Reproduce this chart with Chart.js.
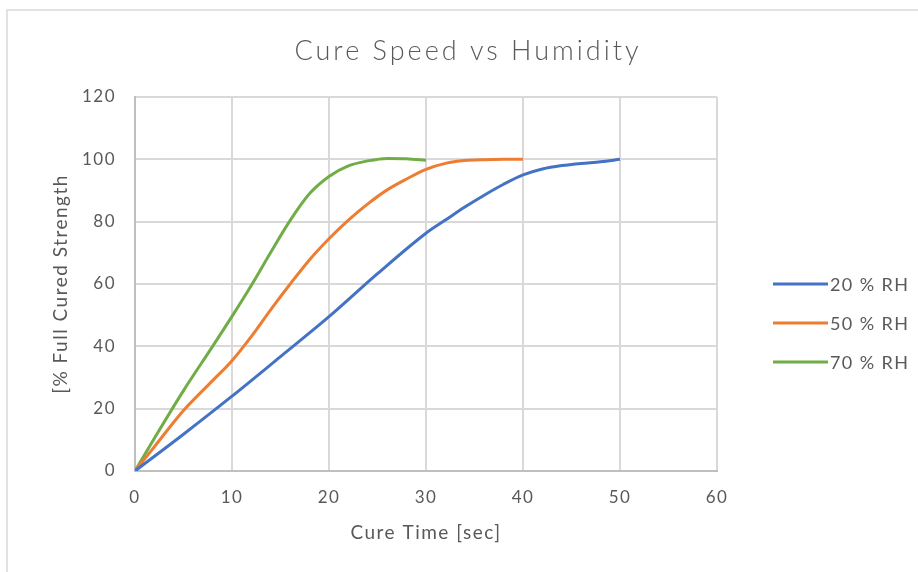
<!DOCTYPE html>
<html>
<head>
<meta charset="utf-8">
<title>Cure Speed vs Humidity</title>
<script src="https://cdn.jsdelivr.net/npm/chart.js@4/dist/chart.umd.min.js"></script>
<style>
    html, body { margin: 0; padding: 0; background: #ffffff; }
    #wrap { width: 918px; height: 572px; position: relative; }
</style>
</head>
<body>
<div id="wrap"><canvas id="cureChart" width="918" height="572"></canvas></div>
<script>
// Chart data
const seriesNames = ['20 % RH', '50 % RH', '70 % RH'];
const seriesColors = ['#4472C4', '#ED7D31', '#70AD47'];

const time20 = [0, 5, 10, 15, 20, 25, 30, 32, 34, 36, 38, 40, 42, 44, 46, 48, 50];
const rh20 = [0, 11.8, 24, 36.7, 49.5, 63.3, 76.3, 80.5, 84.7, 88.5, 92, 95, 96.9, 98, 98.7, 99.2, 100];

const time50 = [0, 2, 5, 8, 10, 12, 14, 16, 18, 20, 22, 24, 26, 28, 30, 32, 34, 36, 38, 40];
const rh50 = [0, 7.8, 19.4, 29, 35.4, 43.2, 51.8, 60, 67.8, 74.5, 80.5, 85.7, 90.2, 93.7, 96.8, 98.7, 99.6, 99.9, 100, 100];

const time70 = [0, 2, 5, 8, 10, 12, 14, 16, 18, 20, 22, 24, 26, 28, 30];
const rh70 = [0, 10.5, 25.8, 40, 49.6, 59.6, 70.2, 80.4, 89, 94.5, 97.9, 99.5, 100.3, 100.2, 99.7];

const xTicks = [0, 10, 20, 30, 40, 50, 60];
const yTicks = [0, 20, 40, 60, 80, 100, 120];

const FONT = 'Lato, "Open Sans", sans-serif';
const TEXT_GRAY = '#595959';

function toPoints(times, values) {
    return times.map((t, i) => ({ x: t, y: values[i] }));
}

// frame, title and legend drawn like the spreadsheet chart
const chartDecor = {
    id: 'chartDecor',
    beforeDraw(chart) {
        const ctx = chart.ctx;
        ctx.save();
        ctx.fillStyle = '#ffffff';
        ctx.fillRect(0, 0, chart.width, chart.height);
        ctx.strokeStyle = '#d9d9d9';
        ctx.lineWidth = 1.5;
        ctx.beginPath();
        ctx.moveTo(7, chart.height);
        ctx.lineTo(7, 10);
        ctx.lineTo(chart.width, 10);
        ctx.stroke();
        ctx.restore();
        // the reference text is widely spaced
        ctx.letterSpacing = '1.5px';
    },
    beforeDatasetsDraw(chart) {
        chart.ctx.letterSpacing = '0px';
    },
    afterDraw(chart) {
        const ctx = chart.ctx;
        ctx.save();
        ctx.fillStyle = TEXT_GRAY;
        ctx.textAlign = 'center';
        ctx.textBaseline = 'middle';
        ctx.letterSpacing = '3px';
        ctx.font = '300 27px ' + FONT;
        ctx.fillText('Cure Speed vs Humidity', 468, 51);

        // legend
        const legendY = [284, 323, 362];
        ctx.letterSpacing = '1.4px';
        ctx.font = '18px ' + FONT;
        ctx.textAlign = 'left';
        chart.data.datasets.forEach((ds, i) => {
            ctx.strokeStyle = ds.borderColor;
            ctx.lineWidth = 3;
            ctx.beginPath();
            ctx.moveTo(773, legendY[i]);
            ctx.lineTo(828, legendY[i]);
            ctx.stroke();
            ctx.fillStyle = TEXT_GRAY;
            ctx.fillText(ds.label, 830, legendY[i] + 1);
        });
        ctx.restore();
    }
};

const ctx = document.getElementById('cureChart').getContext('2d');
const cureChart = new Chart(ctx, {
    type: 'line',
    data: {
        datasets: [
            { label: seriesNames[0], data: toPoints(time20, rh20) },
            { label: seriesNames[1], data: toPoints(time50, rh50) },
            { label: seriesNames[2], data: toPoints(time70, rh70) }
        ].map((ds, i) => Object.assign(ds, {
            borderColor: seriesColors[i],
            backgroundColor: seriesColors[i],
            borderWidth: 3,
            pointRadius: 0,
            fill: false,
            cubicInterpolationMode: 'monotone'
        }))
    },
    options: {
        responsive: false,
        animation: false,
        layout: { padding: { top: 97, right: 201, left: 0, bottom: 0 } },
        plugins: {
            legend: { display: false },
            title: { display: false },
            tooltip: { enabled: false }
        },
        scales: {
            x: {
                type: 'linear',
                min: 0,
                max: 60,
                afterBuildTicks: axis => { axis.ticks = xTicks.map(v => ({ value: v })); },
                afterFit: axis => { axis.height = 101; },
                grid: { color: '#d9d9d9', lineWidth: 2, drawTicks: false },
                border: { color: '#bfbfbf', width: 2 },
                ticks: { color: TEXT_GRAY, padding: 16, font: { family: FONT, size: 17 } },
                title: {
                    display: true,
                    text: 'Cure Time [sec]',
                    color: TEXT_GRAY,
                    font: { family: FONT, size: 19 },
                    padding: { top: 0, bottom: 28 }
                }
            },
            y: {
                type: 'linear',
                min: 0,
                max: 120,
                afterBuildTicks: axis => { axis.ticks = yTicks.map(v => ({ value: v })); },
                afterFit: axis => { axis.width = 135; },
                grid: { color: '#d9d9d9', lineWidth: 2, drawTicks: false },
                border: { color: '#bfbfbf', width: 2 },
                ticks: { color: TEXT_GRAY, padding: 19, font: { family: FONT, size: 17 } },
                title: {
                    display: true,
                    text: '[% Full Cured Strength',
                    color: TEXT_GRAY,
                    font: { family: FONT, size: 19 },
                    padding: { top: 49, bottom: 0 }
                }
            }
        }
    },
    plugins: [chartDecor]
});
</script>
</body>
</html>
